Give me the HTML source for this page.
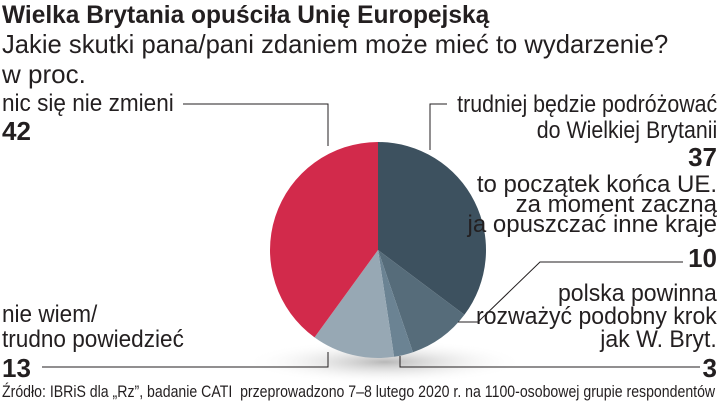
<!DOCTYPE html>
<html><head><meta charset="utf-8"><style>
body{margin:0;background:#fff;width:720px;height:401px;overflow:hidden;position:relative;font-family:"Liberation Sans Narrow","Liberation Sans",sans-serif;color:#231f20}
.t{position:absolute;white-space:nowrap;line-height:1}
.r{text-align:right;transform:scaleX(0.93);transform-origin:right top}
.l{transform:scaleX(0.94);transform-origin:left top}
</style></head><body>
<div class="t" style="left:2px;top:3px;font-size:25px;font-weight:bold;transform:scaleX(0.98);transform-origin:left top">Wielka Brytania opuściła Unię Europejską</div>
<div class="t" style="left:2px;top:31px;font-size:26px;transform:scaleX(0.985);transform-origin:left top">Jakie skutki pana/pani zdaniem może mieć to wydarzenie?</div>
<div class="t" style="left:2px;top:61px;font-size:26px">w proc.</div>
<svg width="720" height="401" style="position:absolute;left:0;top:0">
<defs><radialGradient id="sh"><stop offset="0" stop-color="#888" stop-opacity=".6"/><stop offset="1" stop-color="#fff" stop-opacity="0"/></radialGradient></defs>
<ellipse cx="385" cy="362" rx="140" ry="22" fill="url(#sh)"/>
<g id="slices"></g>
<g stroke="#231f20" stroke-width="1" fill="none">
<polyline points="183,104 328,104 328,146"/>
<polyline points="447,104 430,104 430,150"/>
<polyline points="683,262 540,262 478,322 458,322"/>
<polyline points="42,367 328,367 328,352"/>
<polyline points="400,356 400,367 700,367"/>
</g>
</svg>
<div class="t l" style="left:2px;top:92px;font-size:24px">nic się nie zmieni</div>
<div class="t" style="left:2px;top:118px;font-size:26px;font-weight:bold">42</div>
<div class="t r" style="right:3px;top:92px;font-size:24px;line-height:26px;transform:scaleX(0.89)">trudniej będzie podróżować<br>do Wielkiej Brytanii</div>
<div class="t" style="right:3px;top:144px;font-size:26px;font-weight:bold">37</div>
<div class="t r" style="right:3px;top:175px;font-size:24px;line-height:20px;transform:scaleX(1)">to początek końca UE.<br>za moment zaczną<br>ja opuszczać inne kraje</div>
<div class="t" style="right:3px;top:245px;font-size:26px;font-weight:bold">10</div>
<div class="t r" style="right:3px;top:282px;font-size:24px;line-height:23px;transform:scaleX(0.96)">polska powinna<br>rozważyć podobny krok<br>jak W. Bryt.</div>
<div class="t" style="right:3px;top:355px;font-size:26px;font-weight:bold">3</div>
<div class="t l" style="left:2px;top:302px;font-size:24px;line-height:25px">nie wiem/<br>trudno powiedzieć</div>
<div class="t" style="left:2px;top:355px;font-size:26px;font-weight:bold">13</div>
<div class="t" style="left:2px;top:384px;font-size:16.5px;transform:scaleX(0.855);transform-origin:left top">Źródło: IBRiS dla „Rz”, badanie CATI&nbsp; przeprowadzono 7–8 lutego 2020 r. na 1100-osobowej grupie respondentów</div>
<script>
const categories=["trudniej","koniec UE","polska powinna","nie wiem","nic się nie zmieni"];
const values=[37,10,3,13,42];
const colors=["#3d515f","#566c7a","#6b8393","#97a8b4","#d22a4b"];
const cx=378,cy=250,R=108;
const g=document.getElementById('slices');
const tot=values.reduce((a,b)=>a+b,0);
let a0=0;
values.forEach((v,i)=>{
  const a1=a0+v/tot*2*Math.PI;
  const p=t=>[cx+R*Math.sin(t),cy-R*Math.cos(t)];
  const s=p(a0),e=p(a1);
  const path=document.createElementNS('http://www.w3.org/2000/svg','path');
  path.setAttribute('d',`M${cx},${cy}L${s[0]},${s[1]}A${R},${R} 0 ${a1-a0>Math.PI?1:0} 1 ${e[0]},${e[1]}Z`);
  path.setAttribute('fill',colors[i]);
  
  
  g.appendChild(path);
  a0=a1;
});
</script>
</body></html>
